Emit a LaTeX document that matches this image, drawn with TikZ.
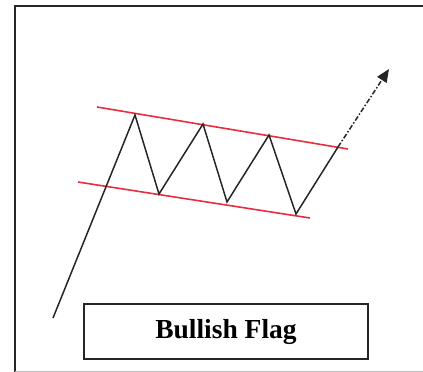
\documentclass[tikz,border=0pt]{standalone}
\usepackage{fontspec}
\setmainfont{Liberation Serif}
\usetikzlibrary{arrows.meta}
\definecolor{flagred}{RGB}{232,45,65}
\tikzset{
  frameline/.style={line width=2pt,black!85},
  channel/.style={line width=1.6pt,flagred},
  pricepath/.style={line width=1.5pt,black!85,line join=miter},
  breakout/.style={line width=1.5pt,black!85,dash pattern=on 5pt off 2pt on 1.5pt off 2pt,-{Triangle[length=13pt,width=11pt]}},
  labelbox/.style={draw=black!85,line width=1.5pt,minimum width=284pt,minimum height=55pt,inner sep=0pt,font=\fontsize{27.5}{30}\selectfont\bfseries}
}
\begin{document}
\begin{tikzpicture}[x=1pt,y=-1pt]
\useasboundingbox (0,0) rectangle (423,372);
% frame
\coordinate (fbl) at (15,372);
\coordinate (ftl) at (15,6);
\coordinate (ftr) at (423,6);
\draw[frameline] (fbl) -- (ftl) -- (ftr);
\coordinate (gbl) at (15,371);
\coordinate (gbr) at (423,371);
\draw[line width=1pt,black!25] (gbl) -- (gbr);
% channel lines
\coordinate (u1) at (97,107);
\coordinate (u2) at (348,149);
\coordinate (l1) at (78,182);
\coordinate (l2) at (310,218);
\draw[channel] (u1) -- (u2);
\draw[channel] (l1) -- (l2);
% price path
\coordinate (s) at (53,318);
\coordinate (p1) at (135,115);
\coordinate (t1) at (159,194);
\coordinate (p2) at (203,124);
\coordinate (t2) at (227,202);
\coordinate (p3) at (269,135);
\coordinate (t3) at (296,214);
\coordinate (b) at (338,147);
\coordinate (tip) at (389,69);
\draw[pricepath] (s) -- (p1) -- (t1) -- (p2) -- (t2) -- (p3) -- (t3) -- (b);
\draw[breakout] (b) -- (tip);
% label
\node[labelbox] (lab) at (226,331.5) {Bullish Flag};
\end{tikzpicture}
\end{document}
